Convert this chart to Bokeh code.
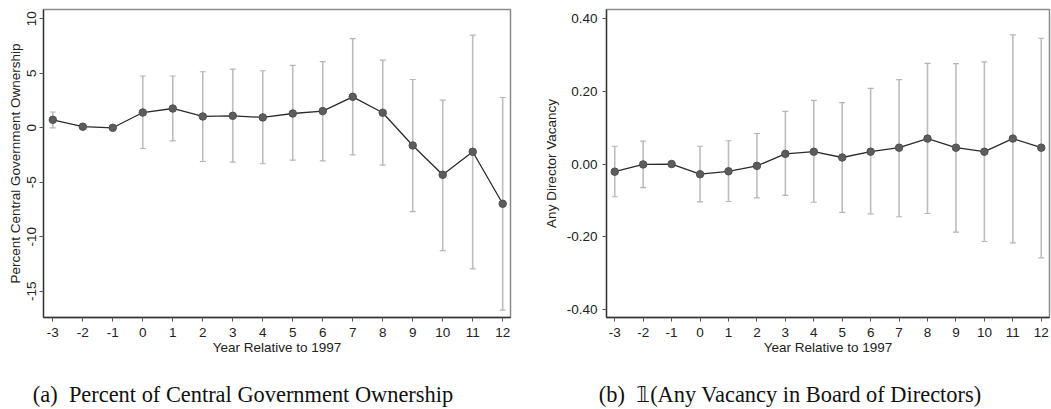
from bokeh.plotting import figure
from bokeh.models import Range1d, FixedTicker, ColumnDataSource, Whisker, TeeHead, Div
from bokeh.layouts import row, column
from bokeh.embed import file_html
from bokeh.resources import INLINE

nan = float("nan")

years = list(range(-3, 13))

own_est = [0.73, 0.10, 0.00, 1.40, 1.77, 1.04, 1.10, 0.95, 1.31, 1.53, 2.84, 1.38, -1.62, -4.31, -2.20, -6.97]
own_hi = [1.45, 0.30, nan, 4.75, 4.75, 5.14, 5.38, 5.23, 5.72, 6.06, 8.17, 6.20, 4.43, 2.54, 8.50, 2.78]
own_lo = [0.00, -0.10, nan, -1.90, -1.20, -3.09, -3.15, -3.30, -2.97, -3.03, -2.48, -3.42, -7.68, -11.26, -12.94, -16.73]

vac_est = [-0.021, -0.001, 0.000, -0.028, -0.020, -0.005, 0.028, 0.034, 0.018, 0.034, 0.045, 0.070, 0.045, 0.034, 0.070, 0.045]
vac_hi = [0.049, 0.063, nan, 0.049, 0.064, 0.084, 0.145, 0.175, 0.169, 0.208, 0.232, 0.277, 0.276, 0.281, 0.355, 0.346]
vac_lo = [-0.090, -0.065, nan, -0.104, -0.103, -0.093, -0.086, -0.105, -0.133, -0.137, -0.145, -0.136, -0.187, -0.213, -0.217, -0.258]

own_ticks = [-15, -10, -5, 0, 5, 10]
vac_ticks = [-0.4, -0.2, 0.0, 0.2, 0.4]

x_title = "Year Relative to 1997"
own_title = "Percent Central Government Ownership"
vac_title = "Any Director Vacancy"
cap_a = "(a)&nbsp;&nbsp;Percent of Central Government Ownership"
cap_b = "(b)&nbsp;&nbsp;\U0001D7D9(Any Vacancy in Board of Directors)"

SANS = "Liberation Sans"


def make_panel(est, lo, hi, yticks, ylabels, xr, yr, ytitle, border_left, fw, border_right, rotate):
    p = figure(title=None, output_backend="svg", toolbar_location=None,
               x_range=Range1d(*xr), y_range=Range1d(*yr),
               frame_width=fw, frame_height=308,
               min_border_left=border_left, min_border_right=border_right,
               min_border_top=9, min_border_bottom=48)
    p.background_fill_color = "white"
    p.border_fill_color = "white"
    p.outline_line_color = "#8a8a8a"
    p.outline_line_width = 1.5
    p.xgrid.visible = False
    p.ygrid.visible = False

    src = ColumnDataSource(dict(x=years, y=est, lo=lo, hi=hi))
    wh = Whisker(base="x", lower="lo", upper="hi", source=src, dimension="height",
                 line_color="#bdbdbd", line_width=1.6, level="underlay",
                 upper_head=TeeHead(size=6, line_color="#b5b5b5", line_width=1.2),
                 lower_head=TeeHead(size=6, line_color="#b5b5b5", line_width=1.2))
    p.add_layout(wh)
    p.line("x", "y", source=src, line_color="#2b2b2b", line_width=1.3)
    p.scatter("x", "y", source=src, size=7.5, fill_color="#5c5c5c", line_color="#505050")

    for ax in (p.xaxis[0], p.yaxis[0]):
        ax.axis_line_color = "#333333"
        ax.axis_line_width = 1.3
        ax.major_tick_line_color = "#555555"
        ax.major_tick_out = 4
        ax.major_tick_in = 0
        ax.minor_tick_line_color = None
        ax.major_label_text_font = SANS
        ax.major_label_text_font_size = "13.5px"
        ax.major_label_text_color = "#222222"
        ax.axis_label_text_font = SANS
        ax.axis_label_text_font_size = "13.5px"
        ax.axis_label_text_font_style = "normal"
        ax.axis_label_text_color = "#222222"

    p.xaxis.ticker = FixedTicker(ticks=years)
    p.xaxis.major_label_overrides = {t: str(t) for t in years}
    p.xaxis.axis_label = x_title
    p.xaxis.major_label_standoff = 6
    p.xaxis.axis_label_standoff = 0

    p.yaxis.ticker = FixedTicker(ticks=yticks)
    p.yaxis.major_label_overrides = {t: s for t, s in zip(yticks, ylabels)}
    p.yaxis.axis_label = ytitle
    if rotate:
        p.yaxis.major_label_orientation = "parallel"
        p.yaxis.major_label_standoff = 3
        p.yaxis.axis_label_standoff = 2
    else:
        p.yaxis.major_label_standoff = 5
        p.yaxis.axis_label_standoff = 5
    return p


p1 = make_panel(own_est, own_lo, own_hi, own_ticks, [str(t) for t in own_ticks],
                (-3.31, 12.26), (-17.4, 10.85), own_title, 43, 467, 10, True)
p2 = make_panel(vac_est, vac_lo, vac_hi, vac_ticks, [f"{t:.2f}" for t in vac_ticks],
                (-3.29, 12.29), (-0.422, 0.425), vac_title, 86, 443, 2, False)

cap_style = ("font-family:'Liberation Serif',serif;font-size:22.4px;color:#111;"
             "text-align:center;white-space:nowrap;line-height:20px;margin-top:20px;")
d1 = Div(text=f'<div style="{cap_style}width:486px;">{cap_a}</div>',
         width=520, height=44, margin=(0, 0, 0, 0))
d2 = Div(text=f'<div style="{cap_style}width:500px;margin-left:20px;">{cap_b}</div>',
         width=531, height=44, margin=(0, 0, 0, 0))

layout = column(row(p1, p2), row(d1, d2))
open("out.html", "w").write(file_html(layout, INLINE))
